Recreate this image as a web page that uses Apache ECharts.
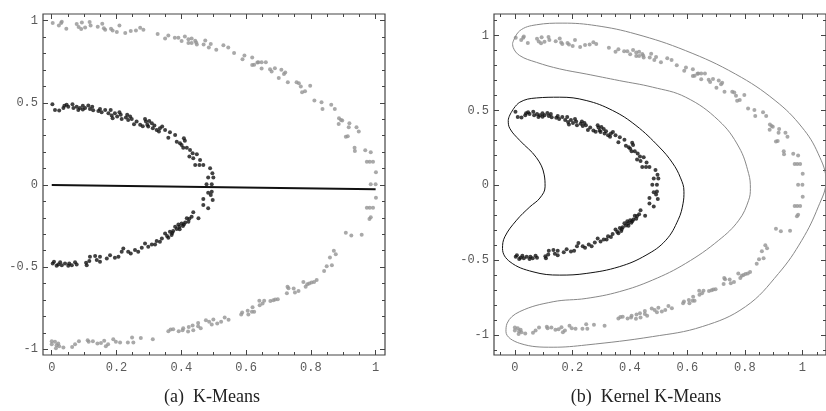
<!DOCTYPE html>
<html>
<head>
<meta charset="utf-8">
<script src="https://cdn.jsdelivr.net/npm/echarts@6/dist/echarts.min.js"></script>
<style>
  html, body { margin: 0; padding: 0; background: #fff; }
  #chart { width: 826px; height: 411px; }
</style>
</head>
<body>
<div id="chart"></div>
<script>
// Two-moons style data: inner half ring (cluster 1) and outer half ring (cluster 2)
const innerCluster = [
  [0.002,0.492],[0.010,0.457],[0.023,0.453],[0.036,0.468],[0.039,0.482],[0.046,0.488],[0.051,0.477],
  [0.064,0.492],[0.067,0.468],[0.077,0.477],[0.082,0.457],[0.087,0.468],[0.096,0.482],[0.096,0.459],
  [0.103,0.468],[0.113,0.484],[0.118,0.463],[0.125,0.477],[0.128,0.455],[0.144,0.451],[0.149,0.463],
  [0.154,0.443],[0.165,0.457],[0.175,0.437],[0.182,0.457],[0.185,0.423],[0.188,0.407],[0.195,0.437],
  [0.202,0.417],[0.209,0.443],[0.213,0.427],[0.216,0.402],[0.229,0.411],[0.233,0.427],[0.236,0.396],
  [0.242,0.417],[0.247,0.402],[0.254,0.370],[0.262,0.386],[0.273,0.366],[0.281,0.358],[0.288,0.402],
  [0.291,0.386],[0.295,0.366],[0.298,0.356],[0.301,0.390],[0.309,0.376],[0.312,0.346],[0.317,0.362],
  [0.324,0.335],[0.331,0.325],[0.334,0.346],[0.341,0.356],[0.350,0.335],[0.360,0.288],[0.365,0.321],
  [0.381,0.305],[0.386,0.264],[0.396,0.254],[0.401,0.244],[0.408,0.285],[0.411,0.270],[0.406,0.227],
  [0.417,0.227],[0.427,0.213],[0.425,0.173],[0.435,0.193],[0.448,0.187],[0.437,0.163],[0.458,0.152],
  [0.443,0.122],[0.456,0.122],[0.468,0.122],[0.489,0.102],[0.496,0.071],[0.483,0.045],[0.499,0.045],
  [0.478,0.004],[0.494,0.004],
  [0.483,-0.047],[0.494,-0.041],[0.468,-0.085],[0.491,-0.061],[0.497,-0.091],[0.468,-0.122],[0.483,-0.142],
  [0.453,-0.203],[0.437,-0.166],[0.432,-0.193],[0.422,-0.224],[0.417,-0.203],[0.408,-0.240],[0.401,-0.234],
  [0.394,-0.254],[0.391,-0.240],[0.386,-0.268],[0.381,-0.254],[0.375,-0.280],[0.370,-0.305],[0.365,-0.285],
  [0.360,-0.321],[0.350,-0.295],[0.340,-0.325],[0.334,-0.346],[0.324,-0.341],[0.319,-0.362],[0.309,-0.362],
  [0.298,-0.376],[0.288,-0.356],[0.278,-0.382],[0.267,-0.407],[0.257,-0.396],[0.244,-0.417],[0.236,-0.407],
  [0.221,-0.386],[0.216,-0.407],[0.206,-0.437],[0.195,-0.443],[0.180,-0.427],[0.170,-0.447],[0.149,-0.437],
  [0.149,-0.468],[0.139,-0.457],[0.134,-0.433],[0.118,-0.437],[0.116,-0.463],[0.108,-0.488],[0.106,-0.474],
  [0.077,-0.484],[0.072,-0.471],[0.062,-0.488],[0.054,-0.478],[0.051,-0.492],[0.041,-0.478],[0.031,-0.488],
  [0.026,-0.471],[0.020,-0.484],[0.015,-0.492],[0.007,-0.468],[0.003,-0.478],
  [0.395,-0.270],[0.405,-0.250],[0.412,-0.228],[0.372,-0.292],[0.356,-0.310],[0.425,-0.205]
];

const outerCluster = [
  [0.003,0.986],[0.022,0.971],[0.029,0.986],[0.031,0.994],[0.045,0.951],[0.077,0.980],[0.083,0.962],
  [0.093,0.990],[0.091,0.949],[0.103,0.959],[0.117,0.992],[0.120,0.971],[0.142,0.963],[0.156,0.982],
  [0.161,0.955],[0.165,0.945],[0.183,0.951],[0.188,0.941],[0.201,0.931],[0.209,0.971],[0.227,0.925],
  [0.244,0.937],[0.260,0.941],[0.273,0.957],[0.283,0.945],[0.327,0.919],[0.350,0.892],[0.360,0.910],
  [0.380,0.896],[0.391,0.896],[0.401,0.876],[0.411,0.904],[0.422,0.888],[0.422,0.864],[0.432,0.892],
  [0.432,0.864],[0.443,0.878],[0.448,0.855],[0.446,0.868],[0.469,0.855],[0.474,0.880],[0.485,0.837],
  [0.491,0.858],[0.508,0.823],
  [0.530,0.850],[0.545,0.837],[0.563,0.803],[0.589,0.766],[0.595,0.788],[0.619,0.776],[0.619,0.730],
  [0.625,0.732],[0.635,0.746],[0.638,0.748],[0.648,0.748],[0.661,0.748],[0.648,0.709],[0.674,0.705],
  [0.679,0.691],[0.689,0.711],[0.701,0.652],[0.709,0.701],[0.717,0.675],[0.721,0.685],[0.729,0.626],
  [0.756,0.626],[0.763,0.620],[0.769,0.599],[0.773,0.565],[0.782,0.571],[0.798,0.604],[0.811,0.514],
  [0.833,0.504],[0.836,0.463],[0.863,0.488],[0.874,0.463],[0.887,0.407],[0.893,0.396],[0.897,0.392],
  [0.886,0.372],[0.919,0.376],[0.917,0.352],[0.941,0.352],[0.948,0.325],[0.908,0.293],[0.914,0.297],
  [0.935,0.227],[0.936,0.207],[0.968,0.211],[0.985,0.199],[0.973,0.142],[0.982,0.142],[0.992,0.142],
  [1.001,0.077],[0.985,0.004],[1.000,0.004],
  [1.001,-0.077],[0.973,-0.138],[0.982,-0.138],[0.992,-0.138],[0.981,-0.207],[0.985,-0.197],
  [0.908,-0.291],[0.925,-0.307],[0.957,-0.303],[0.871,-0.400],[0.877,-0.421],[0.859,-0.441],[0.865,-0.488],
  [0.849,-0.494],[0.841,-0.524],[0.818,-0.579],[0.810,-0.590],[0.802,-0.593],[0.795,-0.599],[0.789,-0.605],
  [0.784,-0.620],[0.777,-0.590],[0.762,-0.646],[0.751,-0.654],[0.747,-0.630],[0.731,-0.628],[0.728,-0.620],
  [0.726,-0.659],[0.698,-0.695],[0.690,-0.697],[0.684,-0.701],[0.675,-0.707],[0.656,-0.705],[0.641,-0.705],
  [0.651,-0.721],[0.642,-0.732],[0.625,-0.772],[0.620,-0.744],[0.618,-0.772],[0.605,-0.766],[0.607,-0.788],
  [0.588,-0.776],[0.585,-0.788],[0.546,-0.821],[0.534,-0.807],[0.523,-0.833],[0.511,-0.843],[0.499,-0.819],
  [0.494,-0.849],
  [0.000,-0.951],[0.000,-0.970],[0.010,-0.955],[0.015,-0.976],[0.013,-0.994],[0.020,-0.965],[0.023,-0.982],
  [0.036,-0.990],[0.063,-0.986],[0.072,-0.970],[0.084,-0.951],[0.111,-0.945],[0.114,-0.955],[0.127,-0.951],
  [0.141,-0.965],[0.152,-0.962],[0.162,-0.949],[0.167,-0.982],[0.174,-0.970],[0.190,-0.939],[0.198,-0.955],
  [0.211,-0.959],[0.235,-0.959],[0.248,-0.929],[0.252,-0.959],[0.275,-0.931],[0.312,-0.939],[0.360,-0.890],
  [0.367,-0.880],[0.375,-0.878],[0.392,-0.890],[0.404,-0.884],[0.406,-0.872],[0.421,-0.892],[0.423,-0.864],
  [0.435,-0.855],[0.437,-0.884],[0.452,-0.840],[0.452,-0.860],[0.460,-0.872],[0.476,-0.823],[0.486,-0.833]
];

// Linear K-Means separating boundary
const kmeansBoundary = [[0, 0], [1, -0.026]];

// Kernel K-Means decision contours (closed curves)
const innerContour = [
  [-0.012,0.489],[0.017,0.555],[0.075,0.584],[0.156,0.589],[0.248,0.567],[0.340,0.500],[0.421,0.400],
  [0.502,0.256],[0.548,0.150],[0.576,0.050],[0.588,-0.040],[0.585,-0.120],[0.568,-0.230],[0.525,-0.367],
  [0.456,-0.467],[0.363,-0.544],[0.248,-0.589],[0.156,-0.600],[0.063,-0.578],[-0.017,-0.511],
  [-0.043,-0.422],[-0.035,-0.344],[0.006,-0.233],[0.052,-0.144],[0.087,-0.085],[0.105,-0.010],
  [0.102,0.070],[0.075,0.185],[0.017,0.300],[-0.017,0.378],[-0.023,0.433],[-0.012,0.489]
];

const outerContour = [
  [-0.008,0.950],[0.017,1.033],[0.075,1.073],[0.167,1.084],[0.283,1.067],[0.421,1.011],[0.594,0.900],
  [0.767,0.744],[0.905,0.567],[0.998,0.389],[1.055,0.211],[1.082,0.030],[1.055,-0.144],[0.998,-0.367],
  [0.917,-0.589],[0.802,-0.811],[0.652,-0.944],[0.479,-1.011],[0.248,-1.067],[0.133,-1.082],
  [0.017,-1.056],[-0.031,-0.978],[-0.027,-0.922],[0.017,-0.844],[0.133,-0.778],[0.248,-0.756],
  [0.363,-0.711],[0.479,-0.633],[0.594,-0.522],[0.709,-0.367],[0.779,-0.233],[0.813,-0.100],
  [0.819,-0.020],[0.813,0.078],[0.779,0.256],[0.709,0.433],[0.594,0.589],[0.479,0.656],[0.363,0.700],
  [0.248,0.744],[0.156,0.778],[0.075,0.822],[0.017,0.867],[-0.006,0.922],[-0.008,0.950]
];

const xTickLabels = [0, 0.2, 0.4, 0.6, 0.8, 1];
const yTickLabels = [-1, -0.5, 0, 0.5, 1];
const captions = ['(a)  K-Means', '(b)  Kernel K-Means'];

// minor tick positions on a fixed step between two bounds
function steps(from, to, step) {
  const out = [];
  const n = Math.round((to - from) / step);
  for (let i = 0; i <= n; i++) out.push(+(from + i * step).toFixed(4));
  return out;
}

const panels = [
  { grid: { left: 43, top: 14, width: 342, height: 341 },
    xRange: [-0.027, 1.029], yRange: [-1.035, 1.041],
    xMinor: steps(0, 1, 0.05), yMinor: steps(-1, 1, 0.1), caption: captions[0], cx: 212 },
  { grid: { left: 494, top: 14, width: 334, height: 341 },
    xRange: [-0.0726, 1.082], yRange: [-1.134, 1.145],
    xMinor: steps(-0.05, 1.05, 0.05), yMinor: steps(-1.1, 1.1, 0.1), caption: captions[1], cx: 646 }
];

const labelFont = { fontFamily: 'Liberation Mono', fontSize: 12, color: '#5a5a5a' };
const fmt = v => String(+(+v).toFixed(2));

const grid = [], xAxis = [], yAxis = [], series = [], graphic = [];

panels.forEach((p, gi) => {
  grid.push(Object.assign({ show: true, borderColor: '#444', borderWidth: 1.2, backgroundColor: '#fff' }, p.grid));
  const xBase = xAxis.length, yBase = yAxis.length;
  [['bottom', true, xTickLabels, 5], ['bottom', false, p.xMinor, 3],
   ['top', false, xTickLabels, 5], ['top', false, p.xMinor, 3]].forEach(([pos, lab, vals, len]) => {
    xAxis.push({
      type: 'value', gridIndex: gi, position: pos, min: p.xRange[0], max: p.xRange[1],
      axisLine: { show: false, onZero: false }, splitLine: { show: false },
      axisTick: { show: true, inside: true, length: len, customValues: vals, lineStyle: { color: '#444', width: 1 } },
      axisLabel: lab ? Object.assign({ show: true, margin: 7, customValues: xTickLabels, formatter: fmt }, labelFont) : { show: false }
    });
  });
  [['left', true, yTickLabels, 5], ['left', false, p.yMinor, 3],
   ['right', false, yTickLabels, 5], ['right', false, p.yMinor, 3]].forEach(([pos, lab, vals, len]) => {
    yAxis.push({
      type: 'value', gridIndex: gi, position: pos, min: p.yRange[0], max: p.yRange[1],
      axisLine: { show: false, onZero: false }, splitLine: { show: false },
      axisTick: { show: true, inside: true, length: len, customValues: vals, lineStyle: { color: '#444', width: 1 } },
      axisLabel: lab ? Object.assign({ show: true, margin: 5, customValues: yTickLabels, formatter: fmt }, labelFont) : { show: false }
    });
  });

  const ax = { xAxisIndex: xBase, yAxisIndex: yBase };
  series.push(Object.assign({ type: 'scatter', data: outerCluster, symbolSize: 4,
    itemStyle: { color: '#949494' } }, ax));
  series.push(Object.assign({ type: 'scatter', data: innerCluster, symbolSize: 4,
    itemStyle: { color: '#111' } }, ax));
  if (gi === 0) {
    series.push(Object.assign({ type: 'line', data: kmeansBoundary, symbol: 'none',
      lineStyle: { color: '#111', width: 2 } }, ax));
  } else {
    series.push(Object.assign({ type: 'line', data: innerContour, symbol: 'none', smooth: 0.4,
      lineStyle: { color: '#111', width: 1 } }, ax));
    series.push(Object.assign({ type: 'line', data: outerContour, symbol: 'none', smooth: 0.4,
      lineStyle: { color: '#888', width: 1 } }, ax));
  }

  graphic.push({ type: 'text', x: p.cx, y: 397,
    style: { text: p.caption, align: 'center', verticalAlign: 'middle',
      font: '18px "Liberation Serif"', fill: '#222' } });
});

const chart = echarts.init(document.getElementById('chart'), null, { renderer: 'canvas' });
chart.setOption({ animation: false, grid, xAxis, yAxis, series, graphic });
</script>
</body>
</html>
